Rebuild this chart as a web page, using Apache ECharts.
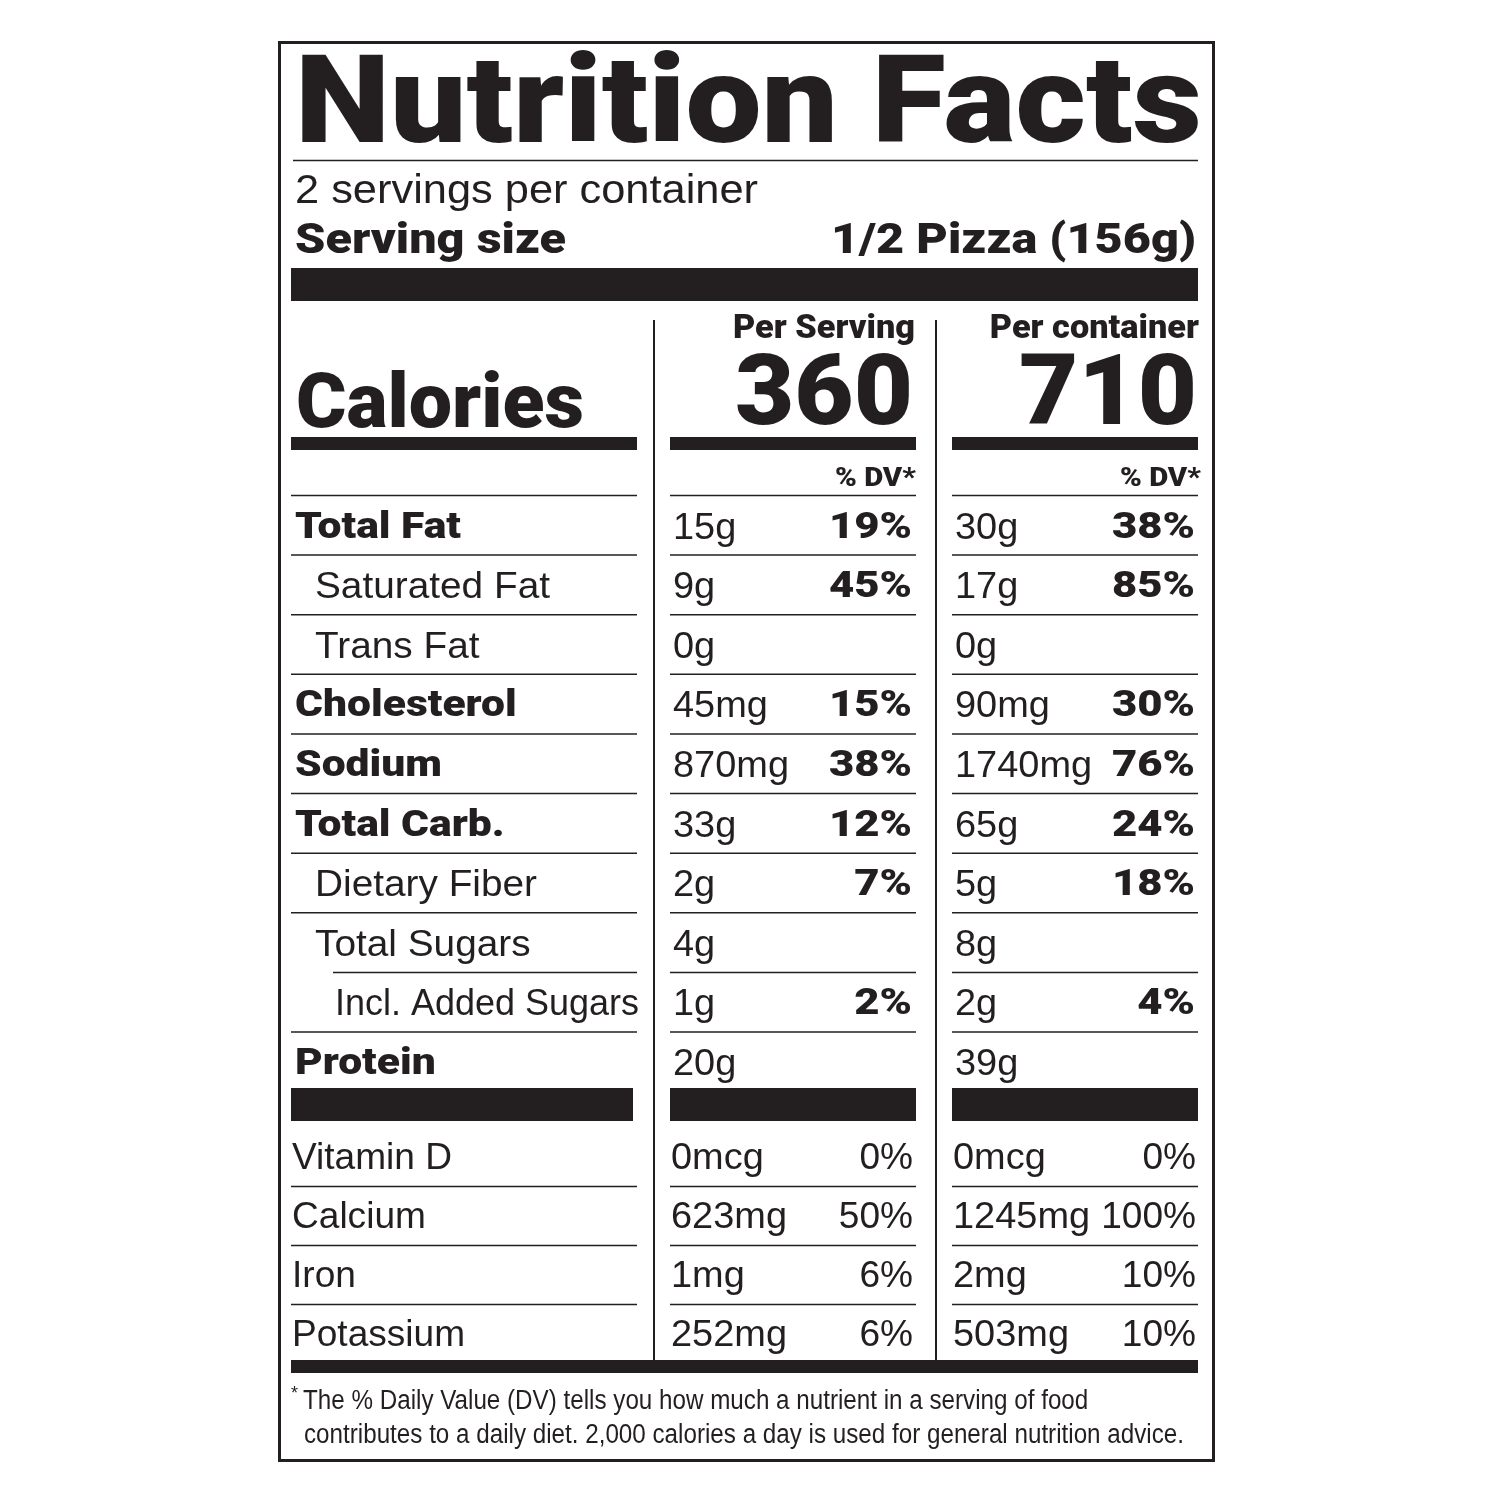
<!DOCTYPE html>
<html><head><meta charset="utf-8">
<script src="https://cdn.jsdelivr.net/npm/echarts@6/dist/echarts.min.js"></script>
<style>html,body{margin:0;padding:0;background:#fff}#c{width:1500px;height:1500px}</style>
</head><body><div id="c"></div>
<script>
// ---------- data ----------
const title = 'Nutrition Facts';
const servingsText = '2 servings per container';
const servingSizeLabel = 'Serving size';
const servingSizeValue = '1/2 Pizza (156g)';
const columnHeaders = ['Per Serving', 'Per container'];
const calorieLabel = 'Calories';
const calories = ['360', '710'];
const dvHeader = '% DV*';
const nutrients = ['Total Fat', 'Saturated Fat', 'Trans Fat', 'Cholesterol', 'Sodium', 'Total Carb.', 'Dietary Fiber', 'Total Sugars', 'Incl. Added Sugars', 'Protein'];
const nutrientLevel = [0, 1, 1, 0, 0, 0, 1, 1, 2, 0];
const nutrientBold = [true, false, false, true, true, true, false, false, false, true];
const servingAmount = ['15g', '9g', '0g', '45mg', '870mg', '33g', '2g', '4g', '1g', '20g'];
const servingDV = ['19%', '45%', '', '15%', '38%', '12%', '7%', '', '2%', ''];
const containerAmount = ['30g', '17g', '0g', '90mg', '1740mg', '65g', '5g', '8g', '2g', '39g'];
const containerDV = ['38%', '85%', '', '30%', '76%', '24%', '18%', '', '4%', ''];
const vitamins = ['Vitamin D', 'Calcium', 'Iron', 'Potassium'];
const vitServingAmount = ['0mcg', '623mg', '1mg', '252mg'];
const vitServingDV = ['0%', '50%', '6%', '6%'];
const vitContainerAmount = ['0mcg', '1245mg', '2mg', '503mg'];
const vitContainerDV = ['0%', '100%', '10%', '10%'];
const footnote = ['The % Daily Value (DV) tells you how much a nutrient in a serving of food',
                  'contributes to a daily diet. 2,000 calories a day is used for general nutrition advice.'];

// ---------- layout / styles ----------
const INK = '#231f20';
const HEAVY = "Roboto, 'Liberation Sans', sans-serif";
const REG = "'Liberation Sans', Arial, sans-serif";
const NARROW = "'Liberation Sans Narrow', 'Liberation Sans', sans-serif";
const cv = document.createElement('canvas').getContext('2d');
function measure(str, st) { cv.font = st.weight + ' ' + st.size + 'px ' + st.family; return cv.measureText(str).width; }
function style(weight, size, family, calibText, calibWidth) {
  const st = { weight, size, family, sx: 1 };
  st.sx = calibWidth / measure(calibText, st);
  return st;
}
const S = {
  title: style(900, 122, HEAVY, title, 907),
  servings: style(400, 40, REG, servingsText, 463),
  sBold: style(900, 42, HEAVY, servingSizeLabel, 271),
  colHead: style(900, 33, HEAVY, columnHeaders[0], 182),
  cal: style(900, 98, HEAVY, calories[0], 178),
  calLabel: style(900, 76, HEAVY, calorieLabel, 288),
  dv: style(900, 26, HEAVY, dvHeader, 81),
  rowBold: style(900, 37, HEAVY, nutrients[0], 166),
  rowReg: style(400, 37, REG, nutrients[1], 235),
  pctBold: style(900, 37, HEAVY, servingDV[0], 83),
  vit: style(400, 37, REG, vitamins[0], 160),
  amt: style(400, 37, REG, servingAmount[4], 116),
  foot: style(400, 27, NARROW, footnote[1], 880)
};
const G = [];
function T(str, x, y, st, align, maxW) {
  if (!str) return;
  let sx = st.sx;
  if (maxW) { const w = measure(str, st) * sx; if (w > maxW) sx = sx * maxW / w; }
  G.push({ type: 'text', x: x, y: y, scaleX: sx, silent: true,
    style: { text: str, x: 0, y: 0, fontSize: st.size, fontFamily: st.family, fontWeight: st.weight, fill: INK,
      align: align || 'left', textAlign: align || 'left', verticalAlign: 'middle', textVerticalAlign: 'middle' } });
}
function R(x, y, w, h) { G.push({ type: 'rect', silent: true, shape: { x, y, width: w, height: h }, style: { fill: INK } }); }
function L(x1, y1, x2, y2, lw) { G.push({ type: 'line', silent: true, shape: { x1, y1, x2, y2 }, style: { stroke: INK, lineWidth: lw || 1.5 } }); }

// columns
const COL = [[291, 637], [670, 916], [952, 1198]];
const amtX = [673, 955], dvX = [912, 1195];

// border
G.push({ type: 'rect', silent: true, shape: { x: 279.5, y: 42.5, width: 934, height: 1418 }, style: { fill: 'none', stroke: INK, lineWidth: 3 } });

// header
T(title, 295, 111, S.title, 'left');
L(293, 160.5, 1198, 160.5, 1.5);
T(servingsText, 295, 192, S.servings, 'left');
T(servingSizeLabel, 295, 242, S.sBold, 'left');
T(servingSizeValue, 1196, 242, S.sBold, 'right');
R(291, 268, 907, 33);

// column separators
L(654, 320, 654, 1362, 2);
L(936, 320, 936, 1362, 2);

// calories block
T(calorieLabel, 296, 408, S.calLabel, 'left');
T(columnHeaders[0], 915, 330, S.colHead, 'right');
T(columnHeaders[1], 1199, 330, S.colHead, 'right');
T(calories[0], 913, 399, S.cal, 'right');
T(calories[1], 1197, 399, S.cal, 'right');
COL.forEach(c => R(c[0], 437, c[1] - c[0], 13));
T(dvHeader, 916, 479, S.dv, 'right');
T(dvHeader, 1201, 479, S.dv, 'right');
COL.forEach(c => L(c[0], 495.5, c[1], 495.5, 1.5));

// nutrient rows
const top0 = 495.5, rowH = (1032 - 495.5) / 9;
const amounts = [servingAmount, containerAmount], dvs = [servingDV, containerDV];
nutrients.forEach((n, i) => {
  const cy = top0 + (i + 0.5) * rowH + 3;
  const lx = 295 + nutrientLevel[i] * 20;
  T(n, lx, cy, nutrientBold[i] ? S.rowBold : S.rowReg, 'left', 639 - lx);
  for (let k = 0; k < 2; k++) {
    T(amounts[k][i], amtX[k], cy, S.amt, 'left');
    T(dvs[k][i], dvX[k], cy, S.pctBold, 'right');
  }
  if (i < nutrients.length - 1) {
    const ly = top0 + (i + 1) * rowH;
    const indent = nutrientLevel[i + 1] === 2 ? 42 : 0;
    L(COL[0][0] + indent, ly, COL[0][1], ly, 1.5);
    L(COL[1][0], ly, COL[1][1], ly, 1.5);
    L(COL[2][0], ly, COL[2][1], ly, 1.5);
  }
});
R(291, 1088, 342, 33);
R(670, 1088, 246, 33);
R(952, 1088, 246, 33);

// vitamins
const vAmt = [vitServingAmount, vitContainerAmount], vDv = [vitServingDV, vitContainerDV];
vitamins.forEach((v, j) => {
  const cy = 1159 + j * 59;
  T(v, 292, cy, S.vit, 'left');
  for (let k = 0; k < 2; k++) {
    T(vAmt[k][j], amtX[k] - 2, cy, S.amt, 'left');
    T(vDv[k][j], dvX[k] + 1, cy, S.vit, 'right');
  }
  if (j < vitamins.length - 1) {
    const ly = 1156 + j * 59 + 30.5;
    COL.forEach(c => L(c[0], ly, c[1], ly, 1.5));
  }
});
R(291, 1360, 907, 13);

// footnote
G.push({ type: 'text', x: 291, y: 1394, silent: true, style: { text: '*', x: 0, y: 0, fontSize: 18, fontFamily: REG, fill: INK, align: 'left', verticalAlign: 'middle' } });
T(footnote[0], 303, 1402, S.foot, 'left');
T(footnote[1], 304, 1436, S.foot, 'left');

const chart = echarts.init(document.getElementById('c'));
chart.setOption({ backgroundColor: '#fff', animation: false, graphic: { elements: G } });
</script>
</body></html>
